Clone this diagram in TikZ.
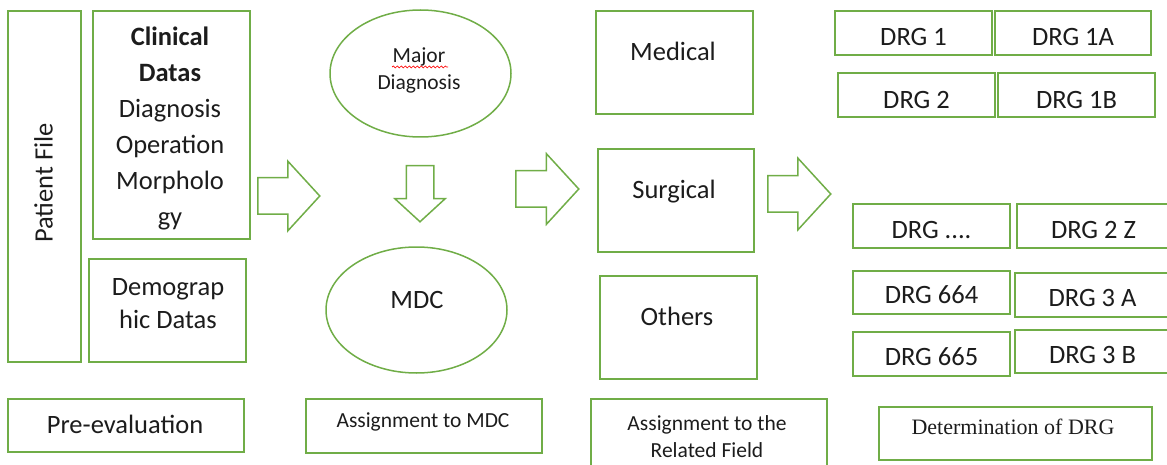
\documentclass[tikz,border=0pt]{standalone}
\usepackage{fontspec}
\setmainfont{Carlito}
\newfontfamily\serifdrg{Liberation Serif}
\usetikzlibrary{shapes.geometric,shapes.arrows,decorations.pathmorphing}
\definecolor{boxgreen}{RGB}{112,173,71}
\definecolor{inktext}{RGB}{28,28,28}

\begin{document}
\begin{tikzpicture}[
  x=1pt, y=-1pt,
  box/.style={rectangle, draw=boxgreen, line width=1.5pt, inner sep=0pt},
  oval/.style={ellipse, draw=boxgreen, line width=1.5pt, inner sep=0pt},
  blockarrow/.style={single arrow, draw=boxgreen, line width=1.5pt, inner xsep=0pt,
    single arrow head indent=0pt, single arrow tip angle=95, anchor=tail},
  txt/.style={text=inktext, font=\fontsize{26.5}{33}\selectfont, inner sep=0pt,
    text height=17pt, text depth=0pt},
  mtxt/.style={text=inktext, font=\fontsize{26.5}{33}\selectfont, inner sep=0pt, align=center},
  smalltxt/.style={text=inktext, font=\fontsize{21.5}{27}\selectfont, inner sep=0pt, align=center}
]
  \useasboundingbox (0,0) rectangle (1167,465);
  \clip (0,0) rectangle (1167,465);

  % Pre-evaluation
  \node[box, minimum width=73pt, minimum height=351pt] (patient) at (44.5,186.5) {};
  \node[txt, rotate=90] (patienttxt) at (44,183) {Patient File};
  \node[box, minimum width=157pt, minimum height=228pt] (clinical) at (171.5,125) {};
  \node[mtxt, font=\fontsize{26.5}{36}\selectfont] (clinicaltxt) at (170,128)
    {\textbf{Clinical}\\ \textbf{Datas}\\ Diagnosis\\ Operation\\ Morpholo\\ gy};
  \node[box, minimum width=157pt, minimum height=103pt] (demo) at (167.5,310.5) {};
  \node[mtxt] (demotxt) at (168,303.5) {Demograp\\ hic Datas};
  \node[box, minimum width=236pt, minimum height=53pt] (preeval) at (126,425.5) {};
  \node[txt] (preevaltxt) at (125,425) {Pre-evaluation};

  % Arrows
  \node[blockarrow, minimum height=62pt, inner ysep=17.5pt, single arrow head extend=16.5pt]
    (arrowone) at (257,196) {};
  \node[blockarrow, minimum height=56pt, inner xsep=13pt, inner ysep=0pt, single arrow head extend=11.5pt,
    shape border rotate=270] (arrowdown) at (420,165) {};
  \node[blockarrow, minimum height=63pt, inner ysep=17.5pt, single arrow head extend=17pt]
    (arrowtwo) at (515,189) {};
  \node[blockarrow, minimum height=63pt, inner ysep=17.5pt, single arrow head extend=17.5pt]
    (arrowthree) at (767,194) {};

  % Assignment to MDC
  \node[oval, minimum width=181pt, minimum height=127pt] (major) at (420.5,73.5) {};
  \node[smalltxt] (majortxt) at (419,70) {Major\\ Diagnosis};
  \draw[red, line width=0.7pt, decorate, decoration={snake, amplitude=1pt, segment length=4pt}]
    (392,67) -- (448,67);
  \node[oval, minimum width=181pt, minimum height=126pt] (mdc) at (416.5,310) {};
  \node[txt] (mdctxt) at (417,300) {MDC};
  \node[box, minimum width=236pt, minimum height=54pt] (asgmdc) at (424,426) {};
  \node[smalltxt, text height=13.8pt, text depth=0pt] (asgmdctxt) at (423,421) {Assignment to MDC};

  % Related field
  \node[box, minimum width=157pt, minimum height=103pt] (medical) at (674.5,62.5) {};
  \node[txt] (medicaltxt) at (673,52) {Medical};
  \node[box, minimum width=156pt, minimum height=103pt] (surgical) at (676,200.5) {};
  \node[txt] (surgicaltxt) at (674,190) {Surgical};
  \node[box, minimum width=157pt, minimum height=103pt] (others) at (678.5,327.5) {};
  \node[txt] (otherstxt) at (677,317) {Others};
  \node[box, minimum width=236pt, minimum height=76pt] (asgfield) at (709,437) {};
  \node[smalltxt] (asgfieldtxt) at (707,436.5) {Assignment to the\\ Related Field};

  % DRG groups
  \node[box, minimum width=157pt, minimum height=44pt] (drgone) at (913.5,33) {};
  \node[txt] at (drgone) [yshift=-4pt] {DRG 1};
  \node[box, minimum width=156pt, minimum height=44pt] (drgonea) at (1073,33) {};
  \node[txt] at (drgonea) [yshift=-4pt] {DRG 1A};
  \node[box, minimum width=157pt, minimum height=44pt] (drgtwo) at (916.5,95) {};
  \node[txt] at (drgtwo) [yshift=-5pt] {DRG 2};
  \node[box, minimum width=157pt, minimum height=44pt] (drgoneb) at (1076.5,95) {};
  \node[txt] at (drgoneb) [yshift=-5pt] {DRG 1B};
  \node[box, minimum width=157pt, minimum height=44pt] (drgdots) at (931.5,226) {};
  \node[txt] at (drgdots) [yshift=-4pt] {DRG ....};
  \node[box, minimum width=153pt, minimum height=44pt] (drgtwoz) at (1093.5,226) {};
  \node[txt] at (drgtwoz) [yshift=-4pt] {DRG 2 Z};
  \node[box, minimum width=157pt, minimum height=43pt] (drgsixfour) at (931.5,292.5) {};
  \node[txt] at (drgsixfour) [yshift=-2.5pt] {DRG 664};
  \node[box, minimum width=155pt, minimum height=44pt] (drgthreea) at (1092.5,295) {};
  \node[txt] at (drgthreea) [yshift=-3pt] {DRG 3 A};
  \node[box, minimum width=157pt, minimum height=44pt] (drgsixfive) at (931.5,354) {};
  \node[txt] at (drgsixfive) [yshift=-3pt] {DRG 665};
  \node[box, minimum width=155pt, minimum height=43pt] (drgthreeb) at (1092.5,351.5) {};
  \node[txt] at (drgthreeb) [yshift=-3.5pt] {DRG 3 B};
  \node[box, minimum width=273pt, minimum height=53pt] (determ) at (1015.5,433.5) {};
  \node[txt, font=\serifdrg\fontsize{22}{26}\selectfont, text height=14.5pt] (determtxt) at (1013,427) {Determination of DRG};
\end{tikzpicture}
\end{document}
